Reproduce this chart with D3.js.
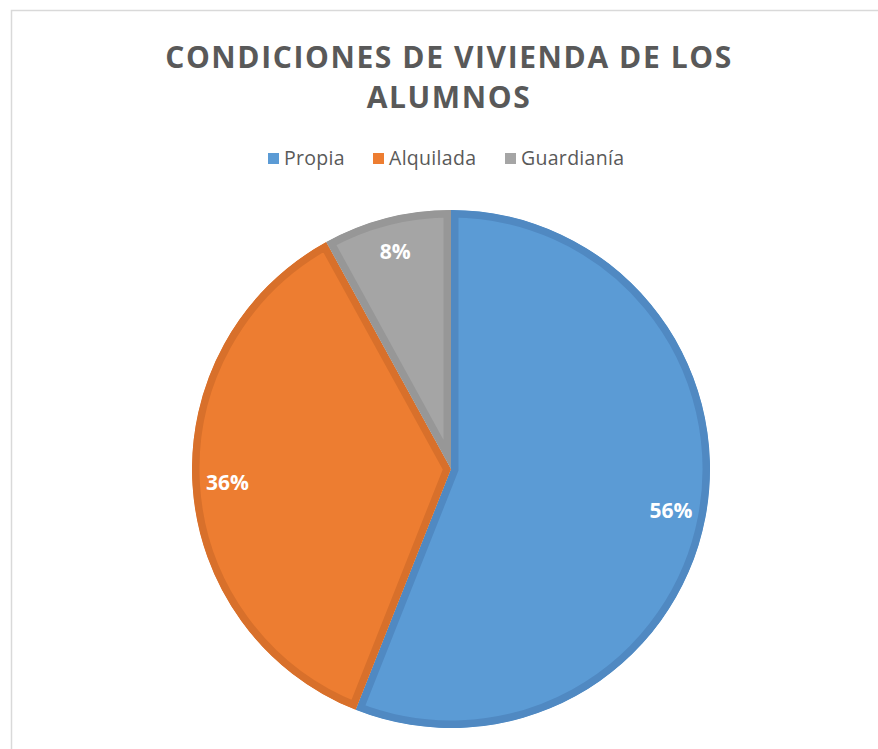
<!DOCTYPE html>
<html lang="es">
<head>
<meta charset="UTF-8">
<title>Condiciones de vivienda</title>
<script src="https://d3js.org/d3.v7.min.js"></script>
<style>
    body { margin: 0; background: #fff; }
    .title { font: bold 30px "Open Sans", sans-serif; fill: #595959; text-anchor: middle; letter-spacing: 1.6px; }
    .legend text { font: 19.5px "Open Sans", sans-serif; fill: #595959; letter-spacing: 0.3px; }
    .pie-label { font: bold 21px "Open Sans", sans-serif; fill: #fff; text-anchor: middle; }
</style>
</head>
<body>
<div id="chart"></div>
<script>
const categories = ["Propia", "Alquilada", "Guardianía"];
const values = [56, 36, 8];
const fills = ["#5B9BD5", "#ED7D31", "#A5A5A5"];
const edges = ["#5089C2", "#D8702B", "#979797"];

const width = 878, height = 749;
const cx = 451, cy = 469, radius = 259;

const svg = d3.select("#chart").append("svg")
    .attr("width", width)
    .attr("height", height);

// chart area border (top and left visible)
svg.append("path")
    .attr("d", `M11.5,${height} V10.5 H${width}`)
    .attr("fill", "none")
    .attr("stroke", "#d9d9d9")
    .attr("stroke-width", 1.5);

svg.append("text").attr("class", "title")
    .attr("x", 449).attr("y", 68)
    .text("CONDICIONES DE VIVIENDA DE LOS");
svg.append("text").attr("class", "title")
    .attr("x", 449).attr("y", 108)
    .text("ALUMNOS");

// legend
const legendX = [268, 373, 505];
const legend = svg.append("g").attr("class", "legend")
  .selectAll("g")
  .data(categories)
  .enter().append("g")
    .attr("transform", (d, i) => `translate(${legendX[i]},153)`);
legend.append("rect")
    .attr("width", 11).attr("height", 11)
    .attr("fill", (d, i) => fills[i]);
legend.append("text")
    .attr("x", 16).attr("y", 12)
    .text(d => d);

// pie
const pie = d3.pie().sort(null).value(d => d);
const arcs = pie(values);
const arc = d3.arc().innerRadius(0).outerRadius(radius);
const labelArc = d3.arc().innerRadius(224).outerRadius(224);

const g = svg.append("g").attr("transform", `translate(${cx},${cy})`);

const defs = svg.append("defs");
arcs.forEach((d, i) => {
    defs.append("clipPath").attr("id", "clip" + i)
      .append("path").attr("d", arc(d));
});

g.selectAll("path.slice")
    .data(arcs)
    .enter().append("path")
    .attr("class", "slice")
    .attr("d", arc)
    .attr("fill", (d, i) => fills[i])
    .attr("stroke", (d, i) => edges[i])
    .attr("stroke-width", 15)
    .attr("stroke-linejoin", "miter")
    .attr("clip-path", (d, i) => `url(#clip${i})`);

g.selectAll(".pie-label")
    .data(arcs)
    .enter().append("text")
    .attr("class", "pie-label")
    .attr("transform", d => `translate(${labelArc.centroid(d)})`)
    .attr("dy", "0.35em")
    .text(d => d.data + "%");
</script>
</body>
</html>
